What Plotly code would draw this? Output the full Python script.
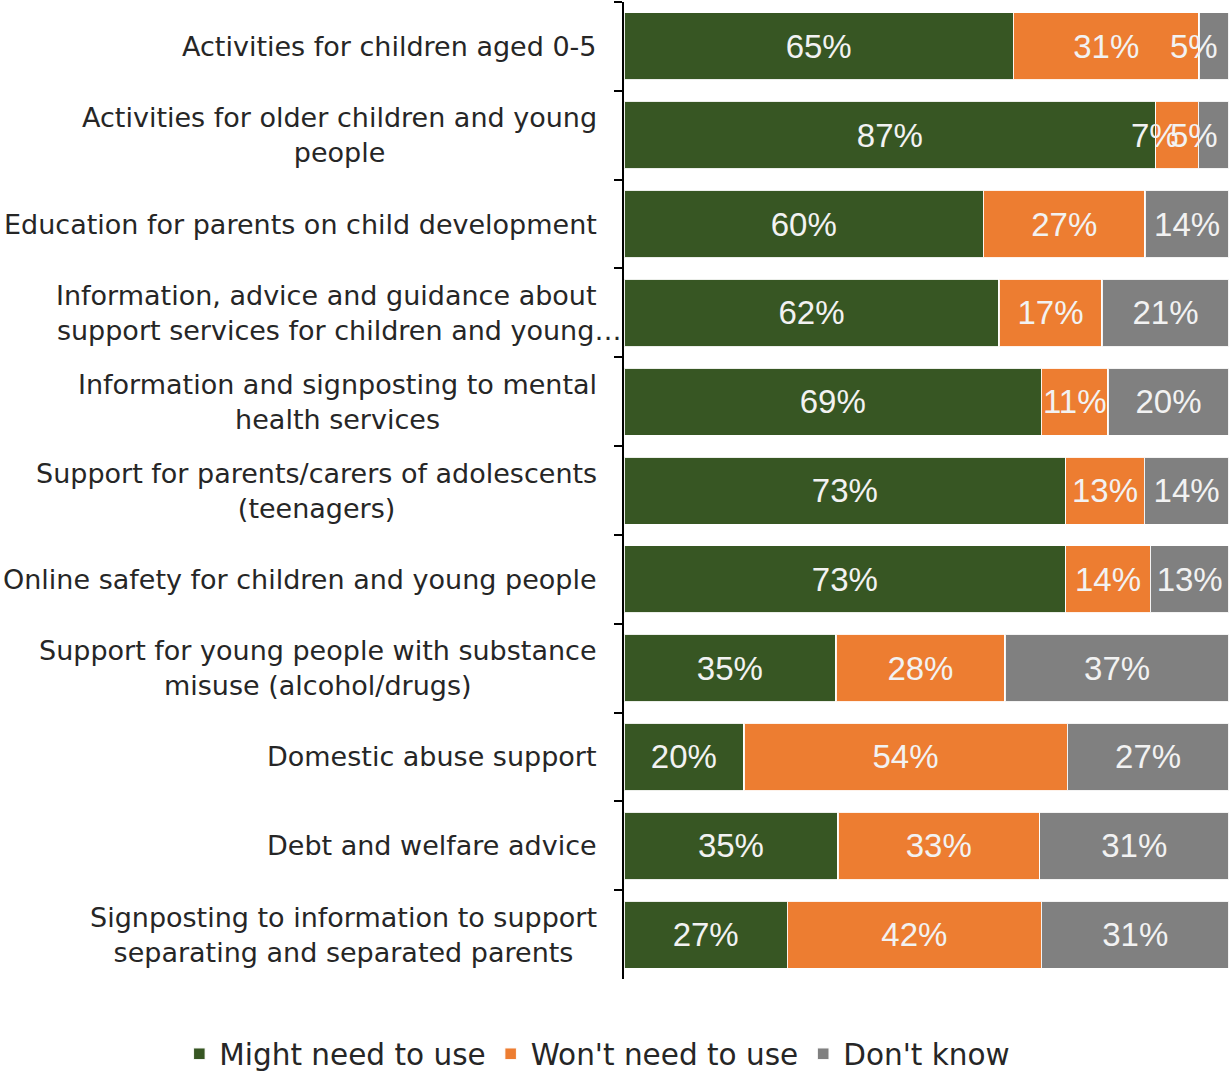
import plotly.graph_objects as go

categories = [
    "Activities for children aged 0-5",
    "Activities for older children and young people",
    "Education for parents on child development",
    "Information, advice and guidance about support services for children and young…",
    "Information and signposting to mental health services",
    "Support for parents/carers of adolescents (teenagers)",
    "Online safety for children and young people",
    "Support for young people with substance misuse (alcohol/drugs)",
    "Domestic abuse support",
    "Debt and welfare advice",
    "Signposting to information to support separating and separated parents",
]
display_labels = [
    "Activities for children aged 0-5",
    "Activities for older children and young<br>people",
    "Education for parents on child development",
    "Information, advice and guidance about\u00a0\u00a0\u00a0<br>support services for children and young…",
    "Information and signposting to mental<br>health services",
    "Support for parents/carers of adolescents<br>(teenagers)",
    "Online safety for children and young people",
    "Support for young people with substance<br>misuse (alcohol/drugs)",
    "Domestic abuse support",
    "Debt and welfare advice",
    "Signposting to information to support<br>separating and separated parents",
]
might_need = [65, 87, 60, 62, 69, 73, 73, 35, 20, 35, 27]
wont_need = [31, 7, 27, 17, 11, 13, 14, 28, 54, 33, 42]
dont_know = [5, 5, 14, 21, 20, 14, 13, 37, 27, 31, 31]
series_names = ["Might need to use", "Won't need to use", "Don't know"]
colors = ["#375623", "#ED7D31", "#808080"]

DATA_FONT = "Liberation Sans, Arial, sans-serif"
TEXT_FONT = "DejaVu Sans, sans-serif"
LABEL_COLOR = "#F2F2F2"
DATA_SIZE = 33

# labels drawn as annotations (narrow segments)
special = {(0, 2), (1, 1), (1, 2)}

fig = go.Figure()
for si, (name, vals, col) in enumerate(zip(series_names, [might_need, wont_need, dont_know], colors)):
    texts = ["" if (i, si) in special else f"{v}%" for i, v in enumerate(vals)]
    fig.add_trace(go.Bar(
        y=categories, x=vals, name=name, orientation="h",
        marker=dict(color=col, line=dict(color="rgba(255,255,255,0.9)", width=1.5)),
        text=texts, textposition="inside", insidetextanchor="middle",
        textangle=0, constraintext="none",
        textfont=dict(family=DATA_FONT, size=DATA_SIZE, color=LABEL_COLOR),
        hoverinfo="skip", cliponaxis=False,
    ))

annotations = []
for i, lab in enumerate(display_labels):
    shift = 0 if i == 3 else -25
    annotations.append(dict(
        x=0, xref="paper", y=categories[i], yref="y", text=lab,
        xanchor="right", yanchor="middle", align="center", showarrow=False,
        xshift=shift, font=dict(family=TEXT_FONT, size=27, color="#262626"),
    ))

# labels for narrow segments
vals_all = [might_need, wont_need, dont_know]
for (i, si) in sorted(special):
    total = might_need[i] + wont_need[i] + dont_know[i]
    v = vals_all[si][i]
    if si == 2:
        annotations.append(dict(
            x=100, xref="x", y=categories[i], yref="y", text=f"{v}%",
            xanchor="right", yanchor="middle", showarrow=False, xshift=-9,
            font=dict(family=DATA_FONT, size=DATA_SIZE, color=LABEL_COLOR),
        ))
    else:
        start = sum(vals_all[k][i] for k in range(si)) / total * 100
        annotations.append(dict(
            x=start, xref="x", y=categories[i], yref="y", text=f"{v}%",
            xanchor="center", yanchor="middle", showarrow=False, xshift=-1,
            font=dict(family=DATA_FONT, size=DATA_SIZE, color=LABEL_COLOR),
        ))

fig.update_layout(
    width=1229, height=1080,
    barmode="stack", barnorm="percent", bargap=0.24,
    plot_bgcolor="white", paper_bgcolor="white",
    margin=dict(l=624, r=0, t=2, b=97),
    font=dict(family=TEXT_FONT, color="#262626"),
    showlegend=True,
    legend=dict(
        orientation="h", xref="paper", yref="paper",
        x=-0.735, xanchor="left", y=-0.077, yanchor="middle",
        font=dict(family=TEXT_FONT, size=29.5, color="#262626"),
        itemclick=False, itemdoubleclick=False, traceorder="normal",
    ),
    annotations=annotations,
)
fig.update_xaxes(range=[0, 100], visible=False, fixedrange=True)
fig.update_yaxes(
    type="category", autorange="reversed", showticklabels=False,
    ticks="outside", tickson="boundaries", ticklen=8, tickwidth=1.5, tickcolor="#000",
    showline=True, linecolor="#000", linewidth=1.5, showgrid=False, fixedrange=True,
)

fig.write_html("out.html", config={"displayModeBar": False},
               post_script="document.body.style.margin='0';")
